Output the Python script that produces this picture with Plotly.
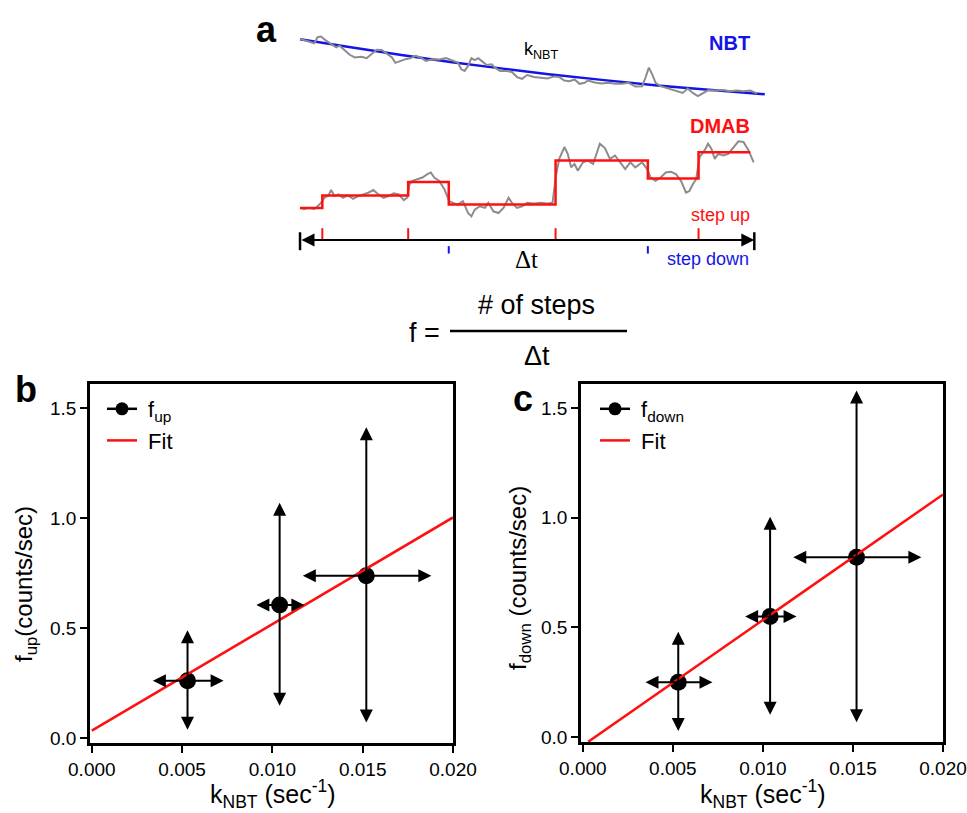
import plotly.graph_objects as go

# ---------------- data ----------------
# Panel a (schematic traces, arbitrary units: time t, signal s)
nbt_t = [0, 22, 42, 52, 62, 77, 92, 107, 117, 132, 147, 162, 182, 197, 212, 227, 242, 257, 272, 282,
         297, 312, 327, 342, 357, 372, 392, 412, 432, 452, 467, 477, 487, 497, 507, 517, 527, 537, 552, 567,
         577, 592, 612, 627, 642, 657, 672, 692, 712, 732, 752, 767, 782, 797, 812, 827, 842, 852, 872, 892,
         912, 932, 952, 972, 992, 1012, 1022, 1032, 1042, 1052, 1067, 1092, 1112, 1132, 1147, 1162, 1177, 1192, 1207, 1232,
         1252, 1272, 1292, 1312, 1332, 1352]
nbt_s = [785, 778, 772, 790, 792, 780, 770, 760, 765, 750, 738, 730, 732, 728, 740, 753, 752, 740, 730, 714,
         720, 725, 728, 735, 730, 720, 725, 724, 728, 720, 715, 695, 690, 705, 728, 722, 728, 720, 708, 710,
         700, 690, 690, 687, 672, 667, 678, 672, 670, 668, 674, 672, 662, 660, 665, 652, 655, 662, 656, 653,
         655, 652, 652, 655, 644, 645, 670, 700, 680, 655, 645, 638, 632, 625, 638, 625, 616, 624, 633, 632,
         634, 630, 632, 630, 632, 624]
nbt_fit_t = [0, 150, 300, 450, 600, 750, 900, 1050, 1200, 1375]
nbt_fit_s = [784, 760, 737, 716, 697, 679, 663, 648, 635, 621]

dmab_t = [0, 12, 27, 42, 52, 62, 72, 84, 92, 102, 114, 127, 142, 157, 172, 187, 202, 217, 232, 247,
          262, 277, 292, 307, 317, 324, 332, 347, 362, 377, 387, 397, 412, 427, 434, 442, 452, 467, 482, 497,
          507, 517, 532, 547, 557, 572, 587, 602, 617, 627, 642, 657, 672, 692, 712, 732, 747, 757, 767, 782,
          792, 802, 812, 822, 837, 852, 867, 877, 887, 902, 917, 932, 947, 962, 977, 992, 1012, 1027, 1037, 1052,
          1067, 1082, 1097, 1112, 1127, 1142, 1152, 1162, 1172, 1182, 1197, 1207, 1217, 1227, 1237, 1252, 1267, 1282, 1297, 1312,
          1327, 1342]
dmab_s = [285, 282, 285, 282, 290, 300, 315, 322, 338, 320, 325, 315, 322, 312, 320, 325, 330, 338, 325, 315,
          320, 328, 325, 308, 315, 355, 365, 370, 375, 385, 390, 375, 365, 340, 325, 305, 300, 295, 305, 270,
          260, 280, 290, 285, 300, 275, 270, 285, 315, 300, 285, 290, 300, 298, 300, 298, 300, 380, 430, 465,
          445, 405, 415, 395, 420, 425, 415, 445, 475, 462, 430, 440, 420, 400, 420, 405, 420, 400, 375, 365,
          375, 390, 392, 385, 365, 330, 335, 355, 370, 435, 455, 475, 460, 430, 445, 440, 445, 465, 482, 480,
          455, 420]
dmab_step_t = [0, 66, 320, 440, 756, 1029, 1179, 1332]
dmab_step_s = [285, 322, 362, 295, 425, 372, 450, 450]

dt_span = [0, 1344]          # time window Δt
dt_level = 190               # level of the Δt arrow
bar_levels = [160, 213]
up_tick_levels = [192, 225]
down_tick_levels = [150, 172]

# Panel b
k_up = [0.0053, 0.0104, 0.0152]
k_up_err = [0.0020, 0.00137, 0.0036]
f_up = [0.26, 0.605, 0.738]
f_up_err = [0.23, 0.465, 0.675]
fit_up_k = [0.0, 0.020]
fit_up_f = [0.033, 1.003]

# Panel c
k_down = [0.0053, 0.0104, 0.0152]
k_down_err = [0.0019, 0.00147, 0.0036]
f_down = [0.25, 0.549, 0.82]
f_down_err = [0.23, 0.455, 0.76]
fit_down_k = [0.0003, 0.020]
fit_down_f = [-0.022, 1.106]

x_ticks = [0.0, 0.005, 0.010, 0.015, 0.020]
y_ticks = [0.0, 0.5, 1.0, 1.5]

# ---------------- figure ----------------
W, H = 967, 813
FONT = "Liberation Sans, Arial, sans-serif"


def px(x):
    return x / W


def py(y):
    return 1 - y / H


fig = go.Figure()

# ---- panel a ----
A = dict(xaxis="x3", yaxis="y3", showlegend=False, hoverinfo="skip")
fig.add_trace(go.Scatter(x=nbt_fit_t, y=nbt_fit_s, mode="lines",
                         line=dict(color="#1414e6", width=2.5, shape="spline"), **A))
fig.add_trace(go.Scatter(x=nbt_t, y=nbt_s, mode="lines",
                         line=dict(color="#8c8c8c", width=2), **A))
fig.add_trace(go.Scatter(x=dmab_t, y=dmab_s, mode="lines",
                         line=dict(color="#8c8c8c", width=2), **A))
fig.add_trace(go.Scatter(x=dmab_step_t, y=dmab_step_s, mode="lines",
                         line=dict(color="#ff1010", width=2.5, shape="hv"), **A))

up_t = [dmab_step_t[i] for i in range(1, len(dmab_step_t)) if dmab_step_s[i] > dmab_step_s[i - 1]]
down_t = [dmab_step_t[i] for i in range(1, len(dmab_step_t)) if dmab_step_s[i] < dmab_step_s[i - 1]]


def seg(ts, lv):
    xs, ys = [], []
    for t in ts:
        xs += [t, t, None]
        ys += [lv[0], lv[1], None]
    return xs, ys


ux, uy = seg(up_t, up_tick_levels)
fig.add_trace(go.Scatter(x=ux, y=uy, mode="lines", line=dict(color="#ff1010", width=2), **A))
dx, dy = seg(down_t, down_tick_levels)
fig.add_trace(go.Scatter(x=dx, y=dy, mode="lines", line=dict(color="#1414e6", width=2), **A))
bx, by = seg(dt_span, bar_levels)
fig.add_trace(go.Scatter(x=bx, y=by, mode="lines", line=dict(color="black", width=2.5), **A))

annotations = []
annotations.append(dict(x=dt_span[1], y=dt_level, ax=dt_span[0], ay=dt_level,
                        xref="x3", yref="y3", axref="x3", ayref="y3", text="",
                        showarrow=True, arrowside="end+start", arrowhead=2, startarrowhead=2,
                        arrowsize=1.3, startarrowsize=1.3, arrowwidth=2, arrowcolor="black"))

# ---- panels b and c ----
def panel(xa, ya, k, kerr, f, ferr, fk, ff, name, legend):
    fig.add_trace(go.Scatter(x=[None], y=[None], mode="lines+markers", name=name,
                             line=dict(color="black", width=2.5),
                             marker=dict(color="black", size=13),
                             xaxis=xa, yaxis=ya, legend=legend, legendrank=1))
    fig.add_trace(go.Scatter(x=k, y=f, mode="markers", marker=dict(color="black", size=17),
                             xaxis=xa, yaxis=ya, showlegend=False, hoverinfo="skip"))
    fig.add_trace(go.Scatter(x=fk, y=ff, mode="lines", name="&nbsp;Fit",
                             line=dict(color="#ff1010", width=2.5),
                             xaxis=xa, yaxis=ya, legend=legend, legendrank=2))
    for xi, xe, yi, ye in zip(k, kerr, f, ferr):
        for (x0, y0, x1, y1) in [(xi, yi - ye, xi, yi + ye), (xi - xe, yi, xi + xe, yi)]:
            annotations.append(dict(x=x1, y=y1, ax=x0, ay=y0, xref=xa, yref=ya,
                                    axref=xa, ayref=ya, text="", showarrow=True,
                                    arrowside="end+start", arrowhead=2, startarrowhead=2,
                                    arrowsize=1.3, startarrowsize=1.3, arrowwidth=2,
                                    arrowcolor="black"))


panel("x", "y", k_up, k_up_err, f_up, f_up_err, fit_up_k, fit_up_f,
      "&nbsp;f<sub>up</sub>", "legend")
panel("x2", "y2", k_down, k_down_err, f_down, f_down_err, fit_down_k, fit_down_f,
      "&nbsp;f<sub>down</sub>", "legend2")


def text(s, x, y, size, color="black", bold=False, angle=0, family=FONT):
    annotations.append(dict(text=("<b>%s</b>" % s) if bold else s, x=px(x), y=py(y),
                            xref="paper", yref="paper", showarrow=False,
                            xanchor="center", yanchor="middle", textangle=angle,
                            font=dict(family=family, size=size, color=color)))


# panel a labels
text("a", 266, 30, 36, bold=True)
text("NBT", 729, 43, 20, color="#1414e6", bold=True)
text("DMAB", 720, 126, 20, color="#ff1010", bold=True)
text("k<sub>NBT</sub>", 541, 50, 18)
text("step up", 720, 215, 18, color="#ff1010")
text("step down", 708, 259, 18, color="#1414e6")
text("Δt", 526, 259, 25, family="Liberation Serif, Times New Roman, serif")

# formula
text("f =", 424, 333, 27)
text("# of steps", 536, 305, 27)
text("Δt", 537, 356, 27)

# panel letters and axis titles
text("b", 26, 390, 36, bold=True)
text("c", 523, 398, 36, bold=True)
text("k<sub>NBT</sub> (sec<sup>-1</sup>)", 273, 794, 25)
text("k<sub>NBT</sub> (sec<sup>-1</sup>)", 763, 794, 25)
text("f<sub>up</sub>(counts/sec)", 25, 584, 24, angle=-90)
text("f<sub>down</sub> (counts/sec)", 519, 578, 24, angle=-90)

axis_common = dict(showline=True, linecolor="black", linewidth=2.5, mirror=True,
                   ticks="outside", ticklen=7, tickwidth=2, tickcolor="black",
                   showgrid=False, zeroline=False, automargin=False,
                   tickfont=dict(family=FONT, size=19, color="black"))

xr = [-0.0001, 0.0200]
yr = [-0.023, 1.61]

fig.update_layout(
    width=W, height=H, margin=dict(l=0, r=0, t=0, b=0, autoexpand=False),
    paper_bgcolor="white", plot_bgcolor="white",
    font=dict(family=FONT, color="black"),
    xaxis=dict(domain=[px(90), px(453)], range=xr, tickvals=x_ticks, tickformat=".3f",
               anchor="y", **axis_common),
    yaxis=dict(domain=[py(743), py(384)], range=yr, tickvals=y_ticks, tickformat=".1f",
               anchor="x", **axis_common),
    xaxis2=dict(domain=[px(581), px(943)], range=xr, tickvals=x_ticks, tickformat=".3f",
                anchor="y2", **axis_common),
    yaxis2=dict(domain=[py(742), py(384)], range=yr, tickvals=y_ticks, tickformat=".1f",
                anchor="x2", **axis_common),
    xaxis3=dict(domain=[px(250), px(780)], range=[-148, 1420], visible=False, anchor="y3",
                automargin=False),
    yaxis3=dict(domain=[py(280), py(0)], range=[71.8, 900], visible=False, anchor="x3",
                automargin=False),
    legend=dict(x=px(102), y=py(388), xanchor="left", yanchor="top", bgcolor="rgba(0,0,0,0)",
                font=dict(family=FONT, size=22, color="black"), tracegroupgap=0, itemwidth=30),
    legend2=dict(x=px(595), y=py(388), xanchor="left", yanchor="top", bgcolor="rgba(0,0,0,0)",
                 font=dict(family=FONT, size=22, color="black"), tracegroupgap=0, itemwidth=30),
    shapes=[dict(type="line", xref="paper", yref="paper", x0=px(450), x1=px(627),
                 y0=py(331), y1=py(331), line=dict(color="black", width=2.5))],
    annotations=annotations,
    showlegend=True,
)

fig.write_html("out.html")
